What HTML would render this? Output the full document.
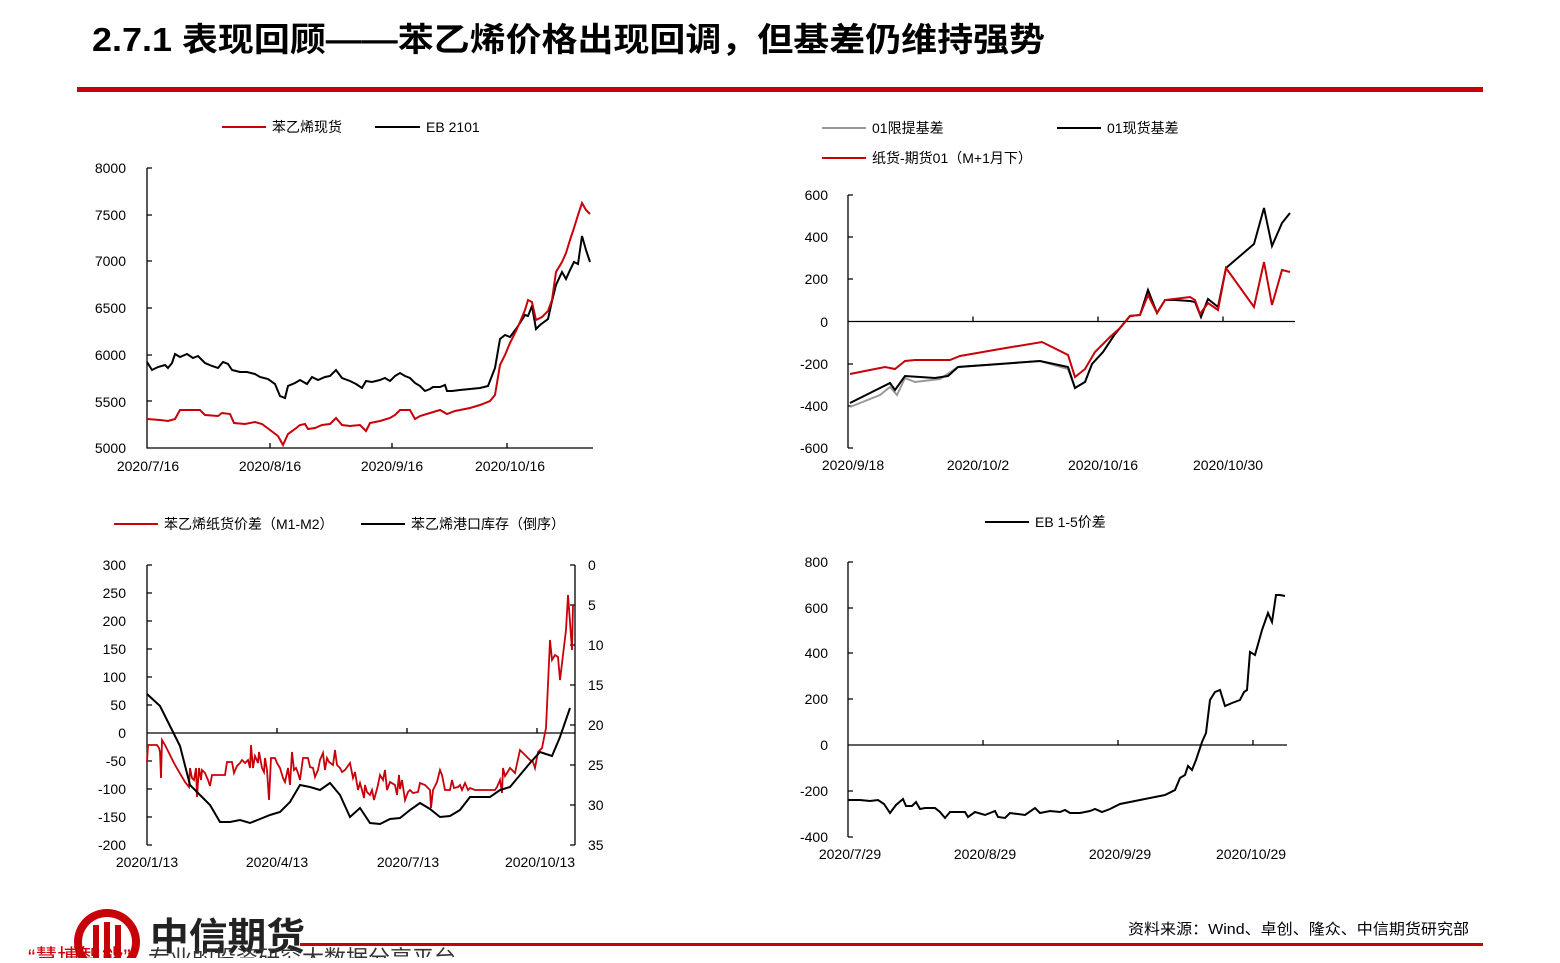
<!DOCTYPE html>
<html><head><meta charset="utf-8"><style>
body{margin:0;background:#fff;width:1560px;height:958px;overflow:hidden;font-family:"Liberation Sans","Noto Sans CJK SC",sans-serif}
svg text{font-family:"Liberation Sans","Noto Sans CJK SC",sans-serif}
</style></head><body>
<svg width="1560" height="958" viewBox="0 0 1560 958">
<text x="92" y="51" font-size="33" font-weight="bold" fill="#000" textLength="953" lengthAdjust="spacingAndGlyphs">2.7.1 表现回顾——苯乙烯价格出现回调，但基差仍维持强势</text>
<rect x="77" y="87" width="1406" height="5" fill="#c8000a"/>

<g font-size="14" fill="#000">
<!-- Chart 1 -->
<line x1="222" y1="127" x2="266" y2="127" stroke="#c8000a" stroke-width="2"/><text x="272" y="132">苯乙烯现货</text>
<line x1="375" y1="127" x2="420" y2="127" stroke="#000" stroke-width="2"/><text x="426" y="132">EB 2101</text>
<g text-anchor="end"><text x="126" y="173">8000</text><text x="126" y="220">7500</text><text x="126" y="266">7000</text><text x="126" y="313">6500</text><text x="126" y="360">6000</text><text x="126" y="407">5500</text><text x="126" y="453">5000</text></g>
<path d="M147 168V448H593M147 168h5M147 215h5M147 261h5M147 308h5M147 355h5M147 401h5M147 448h5M270 448v-5M392 448v-5M507 448v-5" stroke="#000" fill="none" stroke-width="1.3"/>
<g text-anchor="middle"><text x="148" y="471">2020/7/16</text><text x="270" y="471">2020/8/16</text><text x="392" y="471">2020/9/16</text><text x="510" y="471">2020/10/16</text></g>
<polyline fill="none" stroke="#000" stroke-width="2" points="147,362 152,370 158,367 165,365 168,368 172,363 175,354 180,357 187,354 193,358 198,356 205,363 212,366 218,368 223,362 228,364 232,370 240,372 247,372 255,374 260,377 268,379 275,384 280,396 285,398 288,386 295,383 300,380 307,384 312,377 318,380 325,377 330,376 336,370 342,378 350,381 356,384 362,388 366,381 372,382 380,380 385,378 390,381 395,376 400,373 405,376 410,378 415,383 420,386 425,391 430,389 433,387 440,387 445,385 447,391 452,391 460,390 470,389 480,388 488,386 495,368 500,339 505,335 510,337 516,329 520,323 525,315 528,316 532,306 536,329 540,325 548,319 552,301 556,285 562,272 566,279 570,270 574,262 578,264 582,236 586,250 590,262"/>
<polyline fill="none" stroke="#c8000a" stroke-width="2" points="147,419 160,420 168,421 175,419 180,410 190,410 200,410 205,415 218,416 222,413 230,414 234,423 245,424 255,422 262,424 270,430 278,436 283,445 288,434 295,429 300,425 305,424 308,429 315,428 322,425 330,424 336,418 342,425 350,426 360,425 366,431 370,423 380,421 390,418 395,415 400,410 410,410 415,419 420,416 430,413 440,410 447,414 455,411 470,408 480,405 490,401 495,395 500,365 505,355 510,343 516,331 520,322 525,310 528,300 532,302 536,320 542,317 548,311 552,300 556,272 562,262 566,253 570,240 574,228 578,215 582,203 586,210 590,214"/>

<!-- Chart 2 -->
<line x1="822" y1="128" x2="866" y2="128" stroke="#999" stroke-width="2"/><text x="872" y="133">01限提基差</text>
<line x1="1057" y1="128" x2="1101" y2="128" stroke="#000" stroke-width="2"/><text x="1107" y="133">01现货基差</text>
<line x1="822" y1="158" x2="866" y2="158" stroke="#c8000a" stroke-width="2"/><text x="872" y="163">纸货-期货01（M+1月下）</text>
<g text-anchor="end"><text x="828" y="200">600</text><text x="828" y="242">400</text><text x="828" y="284">200</text><text x="828" y="327">0</text><text x="828" y="369">-200</text><text x="828" y="411">-400</text><text x="828" y="453">-600</text></g>
<path d="M848 195V448M848 195h5M848 237h5M848 279h5M848 364h5M848 406h5M848 448h5M848 321.5H1295M973 321.5v-5M1098 321.5v-5M1223 321.5v-5" stroke="#000" fill="none" stroke-width="1.3"/>
<g text-anchor="middle"><text x="853" y="470">2020/9/18</text><text x="978" y="470">2020/10/2</text><text x="1103" y="470">2020/10/16</text><text x="1228" y="470">2020/10/30</text></g>
<polyline fill="none" stroke="#999" stroke-width="2" points="850,407 880,395 890,387 897,395 905,378 915,382 940,379 958,367 1040,361 1068,369 1075,388 1085,382 1092,364 1103,352 1115,334 1130,316"/>
<polyline fill="none" stroke="#000" stroke-width="2" points="850,403 870,393 890,383 895,390 905,376 920,377 935,378 948,376 958,367 1000,364 1040,361 1068,367 1075,388 1085,382 1092,364 1103,352 1115,334 1130,316 1140,315 1148,290 1157,313 1165,300 1175,300 1190,301 1195,302 1201,317 1208,299 1218,307 1226,268 1254,244 1264,208 1272,246 1282,223 1290,213"/>
<polyline fill="none" stroke="#c8000a" stroke-width="2" points="850,374 870,370 885,367 895,369 905,361 915,360 950,360 960,356 1000,349 1042,342 1068,355 1075,377 1085,369 1095,352 1110,337 1120,328 1130,316 1140,315 1148,295 1157,313 1165,300 1190,297 1195,300 1200,314 1208,303 1218,310 1226,268 1254,307 1264,262 1272,305 1282,270 1290,272"/>

<!-- Chart 3 -->
<line x1="114" y1="524" x2="158" y2="524" stroke="#c8000a" stroke-width="2"/><text x="164" y="529">苯乙烯纸货价差（M1-M2）</text>
<line x1="361" y1="524" x2="405" y2="524" stroke="#000" stroke-width="2"/><text x="411" y="529">苯乙烯港口库存（倒序）</text>
<g text-anchor="end"><text x="126" y="570">300</text><text x="126" y="598">250</text><text x="126" y="626">200</text><text x="126" y="654">150</text><text x="126" y="682">100</text><text x="126" y="710">50</text><text x="126" y="738">0</text><text x="126" y="766">-50</text><text x="126" y="794">-100</text><text x="126" y="822">-150</text><text x="126" y="850">-200</text></g>
<g><text x="588" y="570">0</text><text x="588" y="610">5</text><text x="588" y="650">10</text><text x="588" y="690">15</text><text x="588" y="730">20</text><text x="588" y="770">25</text><text x="588" y="810">30</text><text x="588" y="850">35</text></g>
<path d="M147 565V845M147 565h5M147 593h5M147 621h5M147 649h5M147 677h5M147 705h5M147 761h5M147 789h5M147 817h5M147 845h5M575 565V845M575 565h-5M575 605h-5M575 645h-5M575 685h-5M575 725h-5M575 765h-5M575 805h-5M575 845h-5M147 733H575M277 733v-5M407 733v-5M537 733v-5" stroke="#000" fill="none" stroke-width="1.3"/>
<g text-anchor="middle"><text x="147" y="867">2020/1/13</text><text x="277" y="867">2020/4/13</text><text x="408" y="867">2020/7/13</text><text x="540" y="867">2020/10/13</text></g>
<polyline fill="none" stroke="#c8000a" stroke-width="1.8" points="147,762 148,745 153,745 157,745 159,748 160,752 161,778 162,740 165,745 175,765 185,782 189,787 190,768 192,778 194,780 196,768 197,797 199,768 201,780 202,770 205,773 208,780 210,786 212,775 225,775 227,762 232,762 234,773 237,766 240,763 242,760 245,763 248,760 250,768 251,745 253,768 255,756 258,763 259,752 262,768 264,772 265,758 267,770 269,800 271,758 275,758 277,763 280,768 283,778 285,782 288,768 290,785 292,752 294,770 296,768 298,773 300,780 303,758 308,758 310,767 313,768 315,777 318,770 320,760 323,753 325,770 327,758 329,762 333,765 335,750 337,765 340,768 342,772 345,770 350,763 353,778 355,772 358,790 360,783 362,790 364,798 365,785 367,792 370,795 372,790 374,800 378,785 380,775 383,780 385,770 387,790 390,782 395,785 397,795 399,775 400,789 402,780 405,800 408,792 410,790 413,793 418,792 420,783 425,785 430,790 431,808 433,790 437,782 440,770 442,775 445,790 450,790 452,780 454,788 458,787 460,785 462,790 465,783 468,790 470,788 475,790 495,790 497,787 500,780 502,793 503,768 505,776 507,773 510,768 515,773 520,750 530,760 533,762 535,768 538,752 542,748 546,728 550,640 552,660 555,655 558,657 560,680 563,655 566,630 568,595 570,622 572,650 573,605"/>
<polyline fill="none" stroke="#000" stroke-width="2" points="147,694 160,706 170,726 180,746 190,785 200,795 210,805 220,822 230,822 240,820 250,823 260,819 270,815 280,812 290,802 300,785 310,787 320,790 330,783 340,795 350,817 360,808 370,823 380,824 390,819 400,818 410,810 420,803 430,809 440,817 450,816 460,810 470,797 490,797 500,790 510,787 520,775 530,763 540,752 552,756 560,737 570,708"/>

<!-- Chart 4 -->
<line x1="985" y1="522" x2="1029" y2="522" stroke="#000" stroke-width="2"/><text x="1035" y="527">EB 1-5价差</text>
<g text-anchor="end"><text x="828" y="567">800</text><text x="828" y="613">600</text><text x="828" y="658">400</text><text x="828" y="704">200</text><text x="828" y="750">0</text><text x="828" y="796">-200</text><text x="828" y="842">-400</text></g>
<path d="M848 562V837M848 562h5M848 608h5M848 653h5M848 699h5M848 791h5M848 837h5M848 745H1287M983 745v-5M1118 745v-5M1253 745v-5" stroke="#000" fill="none" stroke-width="1.3"/>
<g text-anchor="middle"><text x="850" y="859">2020/7/29</text><text x="985" y="859">2020/8/29</text><text x="1120" y="859">2020/9/29</text><text x="1251" y="859">2020/10/29</text></g>
<polyline fill="none" stroke="#000" stroke-width="2" points="848,800 860,800 870,801 878,800 884,804 890,813 896,805 903,799 906,806 912,806 916,802 920,809 925,808 935,808 940,812 945,818 950,812 965,812 968,817 975,812 985,815 995,811 998,817 1005,818 1010,813 1025,815 1035,808 1040,813 1050,811 1060,812 1065,810 1070,813 1080,813 1090,811 1095,809 1102,812 1110,809 1120,804 1140,800 1165,795 1175,790 1180,778 1185,775 1188,766 1192,770 1196,760 1202,742 1206,733 1210,700 1215,692 1220,690 1225,706 1232,703 1240,700 1244,692 1247,690 1250,652 1255,655 1262,630 1268,613 1272,622 1276,595 1280,595 1285,596"/>
</g>

<!-- Footer -->
<text x="1128" y="934" font-size="15" fill="#000" textLength="341" lengthAdjust="spacingAndGlyphs">资料来源：Wind、卓创、隆众、中信期货研究部</text>
<rect x="300" y="943" width="1183" height="3" fill="#c8000a"/>
<circle cx="107" cy="942" r="33" fill="#c8000a"/>
<circle cx="107" cy="942" r="25" fill="#fff"/>
<path d="M96 925v35M107 922v38M118 925v35" stroke="#c8000a" stroke-width="6"/>
<text x="150" y="950" font-size="38" font-weight="bold" font-family="Noto Serif CJK SC,serif" fill="#222" textLength="155" lengthAdjust="spacingAndGlyphs">中信期货</text>
<text x="28" y="965" font-size="22" fill="#c8000a">“慧博智能”</text>
<text x="148" y="966" font-size="22" fill="#333">专业的投资研究大数据分享平台</text>
</svg>
</body></html>
